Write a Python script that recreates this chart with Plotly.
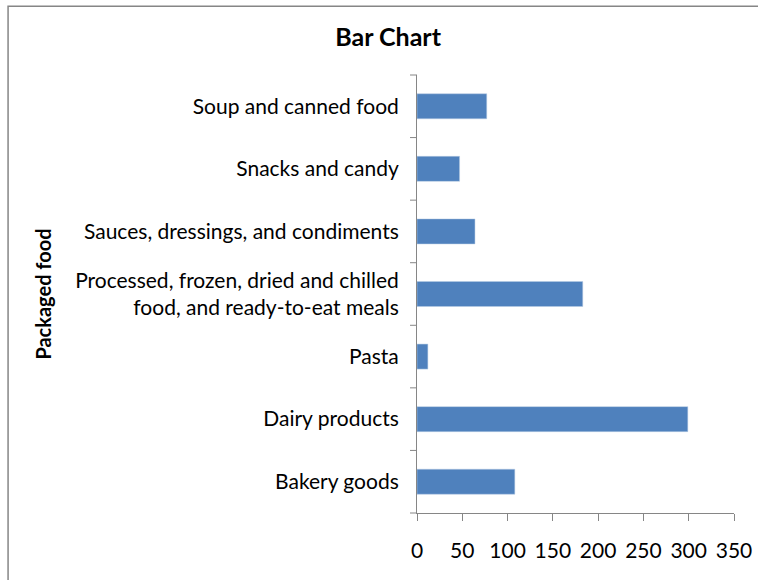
import plotly.graph_objects as go

categories = [
    "Bakery goods",
    "Dairy products",
    "Pasta",
    "Processed, frozen, dried and chilled<br>food, and ready-to-eat meals",
    "Sauces, dressings, and condiments",
    "Snacks and candy",
    "Soup and canned food",
]
values = [108, 299, 12, 183, 64, 47, 77]
x_ticks = [0, 50, 100, 150, 200, 250, 300, 350]

font = "Lato, Calibri, sans-serif"

fig = go.Figure(
    go.Bar(
        x=values,
        y=categories,
        orientation="h",
        marker=dict(color="#4f81bd", line=dict(color="#b9cde5", width=0.5)),
        width=0.4,
    )
)

fig.update_layout(
    width=758,
    height=580,
    margin=dict(l=417, r=24, t=75, b=67),
    plot_bgcolor="white",
    paper_bgcolor="white",
    showlegend=False,
    title=dict(
        text="<b>Bar Chart</b>",
        xref="container",
        yref="container",
        x=0.512,
        xanchor="center",
        y=0.935,
        yanchor="middle",
        font=dict(family=font, size=25, color="black"),
    ),
    font=dict(family=font, size=21, color="black"),
)

fig.update_xaxes(
    range=[0, 350],
    tickvals=x_ticks,
    showgrid=False,
    zeroline=False,
    showline=True,
    linecolor="#868686",
    ticks="outside",
    ticklen=7,
    tickcolor="#868686",
    ticklabelstandoff=12,
    tickfont=dict(size=21),
    automargin=False,
)
fig.update_yaxes(
    showgrid=False,
    showline=True,
    linecolor="#868686",
    ticks="",
    ticklabelstandoff=13,
    title=dict(text="<b>Packaged food</b>", font=dict(size=20), standoff=18),
    tickfont=dict(size=21),
    automargin=False,
)

# category divider ticks on the y axis
for i in range(len(categories) + 1):
    fig.add_shape(
        type="line",
        xref="paper",
        yref="paper",
        x0=-0.022,
        x1=0,
        y0=i / len(categories),
        y1=i / len(categories),
        line=dict(color="#868686", width=1),
    )

# chart border
fig.add_shape(
    type="rect",
    xref="paper",
    yref="paper",
    x0=-1.29,
    x1=1.3,
    y0=-0.4,
    y1=1.157,
    line=dict(color="#868686", width=1.5),
)

fig.write_html(
    "out.html",
    config={"displayModeBar": False},
    post_script="document.body.style.margin='0';",
)
